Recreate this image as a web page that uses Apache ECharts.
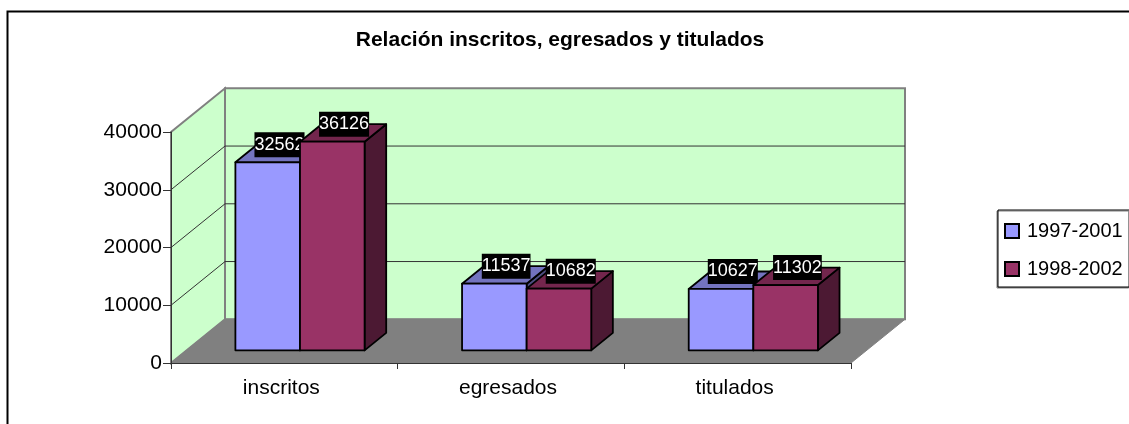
<!DOCTYPE html>
<html>
<head>
<meta charset="utf-8">
<style>html,body{margin:0;padding:0;background:#fff;overflow:hidden}#main{width:1129px;height:424px}</style>
<script src="https://cdn.jsdelivr.net/npm/echarts@6/dist/echarts.min.js"></script>
</head>
<body>
<div id="main"></div>
<script>
var categories = ['inscritos', 'egresados', 'titulados'];
var values9701 = [32562, 11537, 10627];
var values9802 = [36126, 10682, 11302];
var valueTicks = [0, 10000, 20000, 30000, 40000];

// fake 3d, how far the back wall sits from the front plane
var DEPTH_X = 54;
var DEPTH_Y = 43.7;
var BAR_FRONT = 0.29;
var BAR_BACK = 0.69;
var BAR_WIDTH = 0.285;
var FONT = '"Liberation Sans", Arial, sans-serif';

var myChart = echarts.init(document.getElementById('main'));

function wallsItem(params, api) {
    var r = params.coordSys;
    var x0 = r.x, x1 = r.x + r.width;
    var yb = r.y + r.height, yt = r.y;
    var kids = [];
    kids.push({type: 'polygon', shape: {points: [[x0, yb], [x0 + DEPTH_X, yb - DEPTH_Y], [x0 + DEPTH_X, yt - DEPTH_Y], [x0, yt]]},
        style: {fill: '#CCFFCC', stroke: '#808080', lineWidth: 2}});
    kids.push({type: 'polygon', shape: {points: [[x0 + DEPTH_X, yb - DEPTH_Y], [x1 + DEPTH_X, yb - DEPTH_Y], [x1 + DEPTH_X, yt - DEPTH_Y], [x0 + DEPTH_X, yt - DEPTH_Y]]},
        style: {fill: '#CCFFCC', stroke: '#808080', lineWidth: 2}});
    for (var i = 1; i < valueTicks.length - 1; i++) {
        var y = api.coord([0, valueTicks[i]])[1];
        kids.push({type: 'polyline', shape: {points: [[x0, y], [x0 + DEPTH_X, y - DEPTH_Y], [x1 + DEPTH_X, y - DEPTH_Y]]},
            style: {fill: null, stroke: '#333333', lineWidth: 1}});
    }
    kids.push({type: 'polygon', shape: {points: [[x0, yb], [x0 + DEPTH_X, yb - DEPTH_Y], [x1 + DEPTH_X, yb - DEPTH_Y], [x1, yb]]},
        style: {fill: '#808080', stroke: '#808080', lineWidth: 1}});
    return {type: 'group', children: kids};
}

function barItem(side, front, top, dark) {
    return function (params, api) {
        var idx = api.value(0);
        var p = api.coord([idx, api.value(1)]);
        var base = api.coord([idx, 0]);
        var w = api.size([1, 0])[0] * BAR_WIDTH;
        var x0 = p[0] + BAR_FRONT * DEPTH_X + (side < 0 ? -w : 0);
        var x1 = x0 + w;
        var yt = p[1] - BAR_FRONT * DEPTH_Y;
        var yb = base[1] - BAR_FRONT * DEPTH_Y;
        var dx = (BAR_BACK - BAR_FRONT) * DEPTH_X;
        var dy = (BAR_BACK - BAR_FRONT) * DEPTH_Y;
        var edge = {stroke: '#000', lineWidth: 1.8, lineJoin: 'round'};
        return {type: 'group', children: [
            {type: 'polygon', shape: {points: [[x1, yt], [x1 + dx, yt - dy], [x1 + dx, yb - dy], [x1, yb]]},
                style: Object.assign({fill: dark}, edge)},
            {type: 'polygon', shape: {points: [[x0, yt], [x0 + dx, yt - dy], [x1 + dx, yt - dy], [x1, yt]]},
                style: Object.assign({fill: top}, edge)},
            {type: 'rect', shape: {x: x0, y: yt, width: w, height: yb - yt},
                style: Object.assign({fill: front}, edge)},
            {type: 'text', z2: 100, style: {
                text: String(api.value(1)), x: (x0 + x1) / 2 + dx / 2 + 1, y: yt - dy,
                align: 'center', verticalAlign: 'middle', fill: '#fff', stroke: 'none', lineWidth: 0,
                font: '18px ' + FONT, backgroundColor: '#000', padding: [4, 0, 3, 0]
            }}
        ]};
    };
}

function pairs(vals) {
    var out = [];
    for (var i = 0; i < vals.length; i++) out.push([i, vals[i]]);
    return out;
}

var option = {
    animation: false,
    backgroundColor: '#fff',
    title: {
        text: 'Relación inscritos, egresados y titulados',
        left: 555, top: 25, textAlign: 'center',
        textStyle: {fontFamily: FONT, fontSize: 21, fontWeight: 'bold', color: '#000'}
    },
    grid: {left: 171, right: 278, top: 132, bottom: 61},
    xAxis: {
        type: 'category', data: categories, z: 5,
        axisLine: {show: true, lineStyle: {color: '#333333', width: 1}},
        axisTick: {show: true, alignWithLabel: false, length: 6, lineStyle: {color: '#333333'}},
        axisLabel: {color: '#000', fontFamily: FONT, fontSize: 21, margin: 15, padding: [0, 6, 0, 0]}
    },
    yAxis: {
        type: 'value', min: 0, max: 40000, interval: 10000, z: 5,
        splitLine: {show: false},
        axisLine: {show: true, lineStyle: {color: '#333333', width: 1}},
        axisTick: {show: true, length: 8, lineStyle: {color: '#333333'}},
        axisLabel: {color: '#000', fontFamily: FONT, fontSize: 21, margin: 9, formatter: function (v) { return String(v); }}
    },
    legend: {
        orient: 'vertical', left: 998, top: 210,
        data: ['1997-2001', '1998-2002'],
        icon: 'rect', itemWidth: 14, itemHeight: 14, itemGap: 18,
        padding: [11, 7, 8, 6],
        backgroundColor: '#fff', borderColor: '#000', borderWidth: 1,
        shadowColor: '#808080', shadowOffsetY: 1, shadowOffsetX: -1,
        itemStyle: {borderColor: '#000', borderWidth: 2},
        textStyle: {color: '#000', fontFamily: FONT, fontSize: 20, padding: [0, 0, 0, 3]}
    },
    graphic: [{
        type: 'polyline', silent: true,
        shape: {points: [[7.5, 424], [7.5, 11.5], [1129, 11.5]]},
        style: {fill: null, stroke: '#000', lineWidth: 2}
    }],
    series: [
        {type: 'custom', silent: true, z: 1, data: [[0, 0]], encode: {x: 0, y: 1}, renderItem: wallsItem},
        {type: 'custom', name: '1997-2001', z: 2, data: pairs(values9701), encode: {x: 0, y: 1},
            itemStyle: {color: '#9999FF'}, renderItem: barItem(-1, '#9999FF', '#7373BF', '#4D4D80')},
        {type: 'custom', name: '1998-2002', z: 3, data: pairs(values9802), encode: {x: 0, y: 1},
            itemStyle: {color: '#993366'}, renderItem: barItem(1, '#993366', '#73264D', '#4C1933')}
    ]
};
myChart.setOption(option);
</script>
</body>
</html>
